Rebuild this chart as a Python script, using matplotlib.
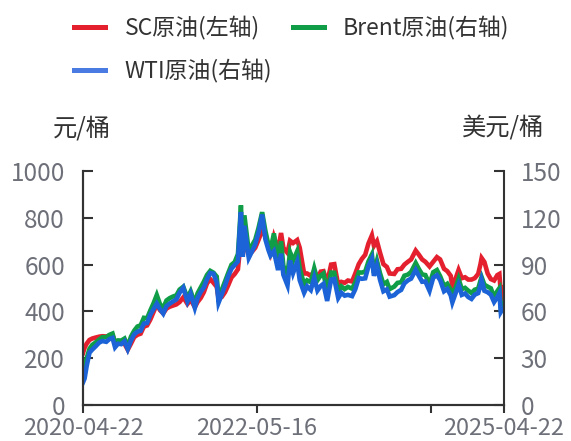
import matplotlib
matplotlib.use('Agg')
import matplotlib.pyplot as plt
from matplotlib.lines import Line2D
import pandas as pd

plt.rcParams['font.family'] = ['Noto Sans CJK SC', 'DejaVu Sans']

# 日期 (半月左右一个点)
dates = [
    '2020-04-22', '2020-04-29', '2020-05-08', '2020-05-20', '2020-06-01', '2020-06-15', '2020-07-01',
    '2020-07-15', '2020-08-01', '2020-08-15', '2020-08-28', '2020-09-08', '2020-09-21', '2020-10-05',
    '2020-10-19', '2020-11-02', '2020-11-16', '2020-11-30', '2020-12-14', '2020-12-28',
    '2021-01-11', '2021-01-25', '2021-02-08', '2021-02-22', '2021-03-08', '2021-03-22', '2021-04-05',
    '2021-04-19', '2021-05-03', '2021-05-17', '2021-06-01', '2021-06-15', '2021-07-01', '2021-07-19',
    '2021-08-02', '2021-08-20', '2021-09-01', '2021-09-15', '2021-09-28', '2021-10-12', '2021-10-26',
    '2021-11-09', '2021-11-23', '2021-12-01', '2021-12-15', '2021-12-29',
    '2022-01-12', '2022-01-26', '2022-02-09', '2022-02-23', '2022-03-02', '2022-03-08', '2022-03-16',
    '2022-03-23', '2022-04-11', '2022-04-25', '2022-05-09', '2022-05-23', '2022-06-08', '2022-06-22',
    '2022-07-05', '2022-07-14', '2022-07-29', '2022-08-16', '2022-08-29', '2022-09-08', '2022-09-26',
    '2022-10-07', '2022-10-20', '2022-11-07', '2022-11-18', '2022-12-07', '2022-12-20',
    '2023-01-05', '2023-01-20', '2023-02-03', '2023-02-17', '2023-03-01', '2023-03-17', '2023-04-03',
    '2023-04-17', '2023-05-04', '2023-05-18', '2023-06-01', '2023-06-15', '2023-07-03', '2023-07-17',
    '2023-08-01', '2023-08-15', '2023-08-29', '2023-09-12', '2023-09-27', '2023-10-06', '2023-10-19',
    '2023-11-01', '2023-11-16', '2023-12-01', '2023-12-13',
    '2024-01-02', '2024-01-16', '2024-02-01', '2024-02-15', '2024-03-01', '2024-03-15', '2024-04-04',
    '2024-04-18', '2024-05-02', '2024-05-16', '2024-06-03', '2024-06-19', '2024-07-05', '2024-07-19',
    '2024-08-05', '2024-08-19', '2024-09-03', '2024-09-10', '2024-09-24', '2024-10-07', '2024-10-21',
    '2024-11-04', '2024-11-18', '2024-12-02', '2024-12-16', '2024-12-31',
    '2025-01-10', '2025-01-15', '2025-01-27', '2025-02-10', '2025-02-24', '2025-03-10', '2025-03-24',
    '2025-04-02', '2025-04-08', '2025-04-15', '2025-04-22',
]

# SC原油 元/桶 (左轴)
sc = [
    222, 245, 262, 278, 284, 288, 292, 294, 293, 296, 298, 270, 265, 268, 262, 236, 262, 290, 300, 305,
    335, 340, 365, 398, 430, 405, 392, 412, 420, 425, 430, 440, 460, 432, 450, 418, 440, 458, 482, 520,
    538, 522, 505, 455, 462, 482,
    512, 545, 560, 580, 650, 710, 640, 700, 645, 655, 672, 705, 745, 722, 680, 652, 718, 662, 735, 672,
    650, 702, 692, 705, 672, 562, 562,
    552, 572, 542, 570, 572, 522, 600, 602, 512, 526, 522, 532, 528, 562, 602, 625, 642, 690, 725, 680,
    700, 652, 602, 590, 562,
    560, 580, 582, 600, 612, 622, 660, 642, 622, 612, 592, 612, 632, 622, 582, 572, 552, 505, 540, 577,
    542, 546, 536, 536, 542, 560,
    602, 628, 611, 562, 538, 532, 555, 560, 478, 490, 455,
]

# Brent原油 美元/桶 (右轴)
brent = [
    22, 25, 30, 36, 38.5, 40, 42, 43.5, 43.5, 45, 45.8, 40, 41.4, 41.3, 42.6, 37.5, 43.8, 47.6, 50.3, 51.1,
    55.9, 55.6, 60.6, 65.2, 70.5, 64.6, 62.2, 67, 68.5, 69.5, 70.3, 74, 75.8, 68.6, 72.9, 65.2, 71.6, 75.5,
    79, 83.4, 86, 84.8, 82.3, 68.9, 73.9, 79.2,
    84.7, 89.9, 91.6, 96.8, 112.9, 128, 98, 121.6, 98.5, 102.3, 105.9, 113.4, 123.6, 111.7, 102.8, 99.1,
    110, 92.3, 105, 89.2, 84, 97.9, 92.4, 98.6, 87.6, 77.2, 79.9,
    78.7, 87.6, 80, 83, 84.3, 72.9, 84.9, 84.8, 72.5, 76, 74.3, 75.7, 74.6, 78.5, 85, 84.9, 85.5, 92,
    96.5, 84.6, 92.4, 84.6, 77.4, 78.9, 74.3,
    75.9, 78.3, 78.7, 82.9, 83.6, 85.3, 91, 87.1, 83.7, 83.3, 77.5, 85.1, 86.5, 82.6, 76.3, 77.7, 73.8,
    69.2, 75.2, 80.9, 74.3, 75.1, 73.3, 71.8, 73.9, 74.6,
    79.8, 82, 77.1, 75.9, 74.8, 69.3, 73, 74.9, 62.8, 64.7, 65.5,
]

# WTI原油 美元/桶 (右轴)
wti = [
    14.5, 17, 25, 33.5, 35.5, 37.5, 40, 41, 40.5, 42.3, 43, 37, 39.3, 39, 40.8, 35.8, 41.3, 45.3, 47, 47.6,
    52.2, 52.6, 57.9, 61.5, 65, 61.5, 58.6, 63.4, 65, 66.3, 67.7, 72, 75.2, 66.4, 71.3, 62.3, 68.6, 72.6,
    75.3, 80.6, 84.6, 84.2, 78.5, 65.6, 70.9, 76.6,
    82.6, 87.4, 89.7, 92.1, 110.6, 123.7, 95, 114.9, 94.3, 98.5, 103, 110.3, 122.1, 106.2, 99.5, 95.8,
    98.6, 86.5, 97, 83.5, 76.7, 92.6, 84.5, 91.8, 80, 72, 76.1,
    73.7, 81.6, 73.4, 76.3, 77.7, 66.7, 80.4, 80.8, 68.6, 71.9, 70.1, 70.6, 69.8, 74.2, 81.4, 80.9, 81.2,
    88.8, 93.7, 82.8, 89.4, 80.4, 72.9, 74.1, 69.5,
    70.4, 72.4, 73.8, 78, 79.9, 81, 86.6, 82.7, 79, 79.2, 73.2, 81.6, 83.2, 80.1, 72.9, 74.4, 70.3,
    65.8, 71.6, 77.1, 70.6, 71.5, 69.2, 68, 70.7, 71.7,
    76.6, 80, 73.2, 72.3, 70.7, 66, 69.1, 71.7, 59.6, 61.3, 61,
]

x_ticks = ['2020-04-22', '2022-05-16', '2024-06-08', '2025-04-22']
x_labels = ['2020-04-22', '2022-05-16', '', '2025-04-22']

red = '#e5202e'
green = '#0f9d48'
blue = '#1b63d6'
axis_c = '#333333'
label_c = '#6e7079'

d = pd.to_datetime(dates)

fig = plt.figure(figsize=(5.71, 4.41), dpi=100)
ax = fig.add_axes([83/571, 1-405/441, 421/571, 234/441])
ax2 = ax.twinx()

ax.plot(d, sc, color=red, lw=3.3, solid_joinstyle='miter')
ax2.plot(d, brent, color=green, lw=3.3, solid_joinstyle='miter')
ax2.plot(d, wti, color=blue, lw=3.3, solid_joinstyle='miter')

ax.set_ylim(0, 1000)
ax.set_yticks(range(0, 1001, 200))
ax2.set_ylim(0, 150)
ax2.set_yticks(range(0, 151, 30))
ax.set_xlim(pd.Timestamp('2020-04-22'), pd.Timestamp('2025-04-22'))
ax.set_xticks(pd.to_datetime(x_ticks))
ax.set_xticklabels(x_labels)

for a in (ax, ax2):
    a.spines['top'].set_visible(False)
    for s in ('left', 'right', 'bottom'):
        a.spines[s].set_color(axis_c)
        a.spines[s].set_linewidth(1.5)
ax.spines['right'].set_visible(False)

ax.tick_params(axis='y', direction='in', length=7, width=1.5, color=axis_c,
               labelcolor=label_c, labelsize=17.5, pad=13)
ax2.tick_params(axis='y', direction='in', length=7, width=1.5, color=axis_c,
                labelcolor=label_c, labelsize=17.5, pad=12)
ax.tick_params(axis='x', direction='out', length=5.5, width=1.5, color=axis_c,
               labelcolor=label_c, labelsize=17, pad=3)

fig.text(82/571, 1-128/441, '元/桶', ha='center', va='center', fontsize=17.5, color=axis_c)
fig.text(503/571, 1-128/441, '美元/桶', ha='center', va='center', fontsize=17.5, color=axis_c)

# 图例, 行优先排列
handles = [
    Line2D([], [], color=red, lw=3.6),
    Line2D([], [], color='#4a7be3', lw=3.6),
    Line2D([], [], color=green, lw=3.6),
]
names = ['SC原油(左轴)', 'WTI原油(右轴)', 'Brent原油(右轴)']
fig.legend(handles, names, ncol=2, loc='upper left', bbox_to_anchor=(74/571, 1-16/441),
           frameon=False, fontsize=16.5, borderpad=0, borderaxespad=0, handlelength=1.35,
           handletextpad=0.85, columnspacing=0.9, labelspacing=0.84, labelcolor=axis_c)

fig.savefig('out.png', dpi=100)
